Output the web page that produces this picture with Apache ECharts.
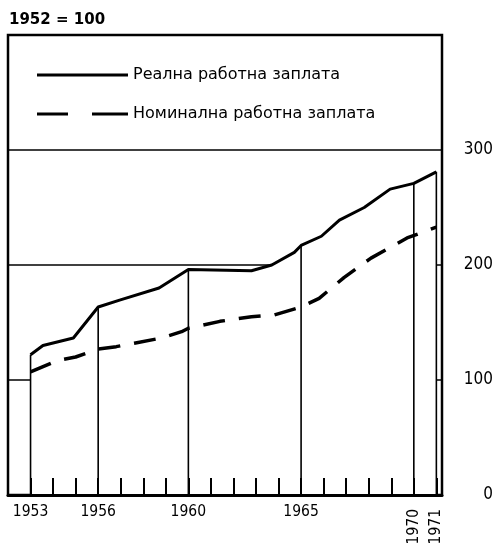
<!DOCTYPE html>
<html>
<head>
<meta charset="utf-8">
<script src="https://cdn.jsdelivr.net/npm/echarts@6/dist/echarts.min.js"></script>
<style>
  html, body { margin: 0; padding: 0; background: #fff; }
  #chart { width: 497px; height: 546px; }
</style>
</head>
<body>
<div id="chart"></div>
<script>
// Real wage index (1952 = 100)
const realYears  = [1953, 1953.55, 1954.9, 1956, 1956.95, 1958.7, 1960, 1962.8, 1963.7, 1964.7, 1965, 1965.9, 1966.7, 1967.8, 1968.95, 1970, 1971];
const realValues = [122, 130, 136.5, 163.5, 169.5, 180, 196, 195, 200, 211, 217, 225, 239, 250, 266, 271, 281];

// Nominal wage index (1952 = 100)
const nomYears  = [1953, 1954.2, 1955, 1956, 1956.8, 1957.6, 1958.8, 1959.7, 1960, 1961.4, 1962.8, 1963.8, 1965, 1965.8, 1966.9, 1968.1, 1969.7, 1971];
const nomValues = [107, 117, 120, 127, 129, 132, 136.5, 142, 145, 151, 155, 156.5, 163.5, 171, 189, 206, 223.5, 233];

// Years marked with a drop line and a label
const dropYears = [1953, 1956, 1960, 1965, 1970, 1971];
const labelYears = [1953, 1956, 1960, 1965];
const rotatedYears = [1970, 1971];
const valueTicks = [0, 100, 200, 300];

const seriesNames = ['Реална работна заплата', 'Номинална работна заплата'];
const baseNote = '1952 = 100';

const zip = (xs, ys) => xs.map((x, i) => [x, ys[i]]);
const dropData = dropYears.map(y => [y, realValues[realYears.indexOf(y)]]);

const numFont = '"DejaVu Sans Condensed", "DejaVu Sans", sans-serif';
const textFont = '"DejaVu Sans", sans-serif';

const chart = echarts.init(document.getElementById('chart'), null, { renderer: 'canvas' });

chart.setOption({
  animation: false,
  backgroundColor: '#fff',
  title: {
    text: baseNote,
    left: 9,
    top: 13,
    padding: 0,
    textStyle: { fontFamily: textFont, fontSize: 15, fontWeight: 'bold', color: '#000' }
  },
  legend: {
    orient: 'vertical',
    left: 37,
    top: 67,
    padding: 0,
    itemWidth: 91,
    itemHeight: 3,
    itemGap: 23,
    selectedMode: false,
    textStyle: { fontFamily: textFont, fontSize: 16, color: '#000' },
    data: [
      { name: seriesNames[0], icon: 'path://M0,0H91V3H0Z' },
      { name: seriesNames[1], icon: 'path://M0,0H31V3H0Z M55,0H91V3H55Z' }
    ]
  },
  grid: {
    left: 8, right: 55, top: 35, bottom: 51,
    outerBoundsMode: 'none',
    show: true,
    borderColor: '#000',
    borderWidth: 2.5,
    backgroundColor: 'transparent'
  },
  xAxis: [
    {
      type: 'value',
      position: 'bottom',
      min: 1952, max: 1971.25, interval: 1,
      z: 10,
      axisLine: { show: true, lineStyle: { color: '#000', width: 3 } },
      axisTick: { show: true, inside: true, length: 17, lineStyle: { color: '#000', width: 2 } },
      splitLine: { show: false },
      axisLabel: {
        margin: 9,
        fontFamily: numFont,
        fontSize: 15.5,
        color: '#000',
        formatter: v => labelYears.includes(v) ? String(v) : ''
      }
    },
    {
      type: 'value',
      position: 'bottom',
      min: 1952, max: 1971.25, interval: 1,
      axisLine: { show: false },
      axisTick: { show: false },
      splitLine: { show: false },
      axisLabel: {
        rotate: 90,
        margin: 14,
        fontFamily: numFont,
        fontSize: 15.5,
        color: '#000',
        formatter: v => rotatedYears.includes(v) ? String(v) : ''
      }
    }
  ],
  yAxis: {
    type: 'value',
    position: 'right',
    min: 0, max: 400, interval: 100,
    axisLine: { show: false },
    axisTick: { show: false },
    splitLine: { show: true, lineStyle: { color: '#000', width: 1.5 } },
    axisLabel: {
      align: 'right',
      margin: 51,
      fontFamily: numFont,
      fontSize: 17,
      color: '#000',
      formatter: v => valueTicks.includes(v) ? String(v) : ''
    }
  },
  series: [
    {
      name: seriesNames[0],
      type: 'line',
      color: '#000',
      data: zip(realYears, realValues),
      symbol: 'none',
      z: 2,
      lineStyle: { color: '#000', width: 3 },
      areaStyle: { color: '#fff', opacity: 1, origin: 'start' }
    },
    {
      name: 'drop',
      type: 'custom',
      z: 3,
      data: dropData,
      renderItem: (params, api) => {
        const x = api.value(0);
        const v = api.value(1);
        const p0 = api.coord([x, 0]);
        const p1 = api.coord([x, v]);
        return {
          type: 'line',
          shape: { x1: p0[0], y1: p0[1], x2: p1[0], y2: p1[1] },
          style: { stroke: '#000', lineWidth: 1.6 }
        };
      }
    },
    {
      name: seriesNames[1],
      type: 'line',
      color: '#000',
      data: zip(nomYears, nomValues),
      symbol: 'none',
      z: 4,
      lineStyle: { color: '#000', width: 3.5, type: [22, 14] }
    }
  ]
});
</script>
</body>
</html>
